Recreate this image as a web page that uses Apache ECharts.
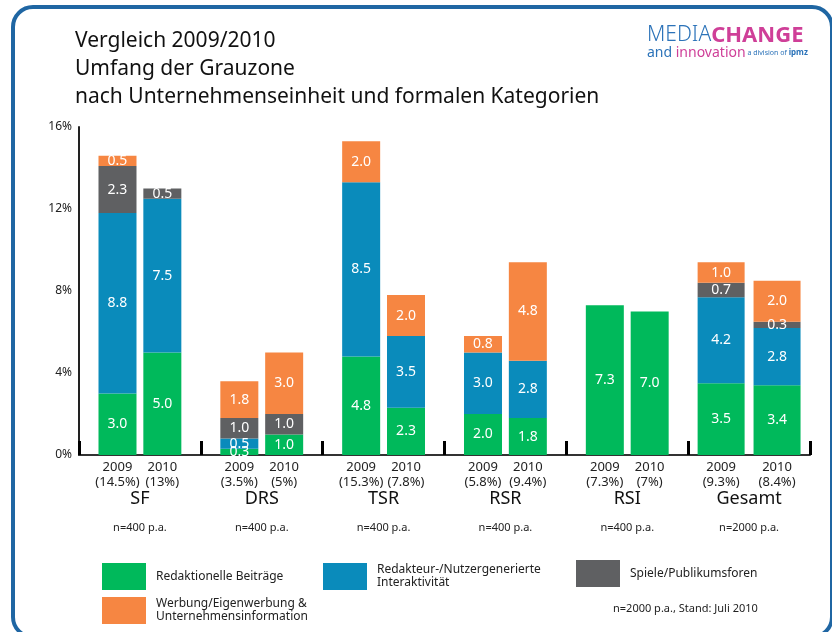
<!DOCTYPE html>
<html>
<head>
<meta charset="utf-8">
<script src="https://cdn.jsdelivr.net/npm/echarts@6/dist/echarts.min.js"></script>
<style>
  html, body { margin: 0; padding: 0; background: #fff; overflow: hidden; }
  #chart { position: absolute; left: 0; top: 0; width: 832px; height: 632px; }
  #frame { position: absolute; left: 11px; top: 5px; width: 823px; height: 634px; box-sizing: border-box;
           border: 4px solid #1f66a3; border-radius: 22px; pointer-events: none; z-index: 5; }
</style>
</head>
<body>
<div id="chart"></div>
<div id="frame"></div>
<script>
// ---- data ----
const categories = ['SF', 'DRS', 'TSR', 'RSR', 'RSI', 'Gesamt'];
const sampleLabels = ['n=400 p.a.', 'n=400 p.a.', 'n=400 p.a.', 'n=400 p.a.', 'n=400 p.a.', 'n=2000 p.a.'];
const years = ['2009', '2010'];
const totals2009 = ['(14.5%)', '(3.5%)', '(15.3%)', '(5.8%)', '(7.3%)', '(9.3%)'];
const totals2010 = ['(13%)', '(5%)', '(7.8%)', '(9.4%)', '(7%)', '(8.4%)'];
const seriesNames = ['Redaktionelle Beiträge', 'Redakteur-/Nutzergenerierte\nInteraktivität', 'Spiele/Publikumsforen', 'Werbung/Eigenwerbung &\nUnternehmensinformation'];
const redaktionell2009 = [3.0, 0.3, 4.8, 2.0, 7.3, 3.5];
const interaktiv2009   = [8.8, 0.5, 8.5, 3.0, null, 4.2];
const spiele2009       = [2.3, 1.0, null, null, null, 0.7];
const werbung2009      = [0.5, 1.8, 2.0, 0.8, null, 1.0];
const redaktionell2010 = [5.0, 1.0, 2.3, 1.8, 7.0, 3.4];
const interaktiv2010   = [7.5, null, 3.5, 2.8, null, 2.8];
const spiele2010       = [0.5, 1.0, null, null, null, 0.3];
const werbung2010      = [null, 3.0, 2.0, 4.8, null, 2.0];
const yMin = 0, yMax = 16, yStep = 4;

// ---- styles ----
const colors = ['#00b95b', '#0a8bbb', '#5f6062', '#f68642'];
const FONT = '"Noto Sans", "Open Sans", sans-serif';

const values = {
  '2009': [redaktionell2009, interaktiv2009, spiele2009, werbung2009],
  '2010': [redaktionell2010, interaktiv2010, spiele2010, werbung2010]
};
const totals = { '2009': totals2009, '2010': totals2010 };
const lastIdx = categories.length - 1;

function pick(arr, axis) {
  return arr.map((v, i) => {
    const inAxis = axis === 0 ? i !== lastIdx : i === lastIdx;
    return (inAxis && v !== null) ? v : '-';
  });
}

const series = [];
[0, 1].forEach(axis => {
  const bw = axis === 0 ? 38 : 47;
  const gap = axis === 0 ? '18%' : '19%';
  years.forEach(y => {
    const stack = 'ax' + axis + '-' + y;
    // year / total label under the bars (zero-height bar)
    series.push({
      type: 'bar', name: 'label' + y, xAxisIndex: axis, stack: stack,
      barWidth: bw, barGap: gap,
      data: pick(categories.map(() => 0), axis),
      itemStyle: { color: 'transparent' },
      label: {
        show: true, position: 'bottom', distance: 5,
        color: '#222', fontSize: 13, lineHeight: 15, fontFamily: FONT,
        formatter: p => y + '\n' + totals[y][p.dataIndex]
      },
      silent: true
    });
    values[y].forEach((arr, k) => {
      series.push({
        type: 'bar', name: seriesNames[k], xAxisIndex: axis, stack: stack,
        barWidth: bw, barGap: gap,
        data: pick(arr, axis),
        itemStyle: { color: colors[k] },
        label: {
          show: true, position: 'inside', color: '#fff', fontSize: 14, fontFamily: FONT,
          formatter: p => Number(p.value).toFixed(1)
        }
      });
    });
  });
});

function legendAt(name, left, top) {
  return {
    data: [name], left: left, top: top, orient: 'horizontal', padding: 0,
    itemWidth: 44, itemHeight: 27, selectedMode: false,
    icon: 'rect',
    textStyle: { color: '#222', fontSize: 12, lineHeight: 13, fontFamily: FONT, padding: [0, 0, 0, 5] }
  };
}

const option = {
  animation: false,
  backgroundColor: '#fff',
  title: [
    {
      left: 75, top: 27, padding: 0,
      text: 'Vergleich 2009/2010\nUmfang der Grauzone\nnach Unternehmenseinheit und formalen Kategorien',
      textStyle: { color: '#111', fontSize: 21, fontWeight: 'normal', lineHeight: 28, fontFamily: FONT }
    },
    {
      left: 647, top: 25, padding: 0,
      text: '{m|MEDIA}{c|CHANGE}\n{a|and }{i|innovation}{s| a division of }{p|ipmz}',
      textStyle: {
        fontWeight: 'normal',
        rich: {
          m: { fontSize: 21, fontWeight: 300, color: '#2c73b9', fontFamily: FONT, lineHeight: 21 },
          c: { fontSize: 22, fontWeight: 'bold', color: '#cf3f98', fontFamily: FONT, lineHeight: 21 },
          a: { fontSize: 14, fontWeight: 'normal', color: '#2c73b9', fontFamily: FONT, lineHeight: 14 },
          i: { fontSize: 14, fontWeight: 'normal', color: '#cf3f98', fontFamily: FONT, lineHeight: 14 },
          s: { fontSize: 7, fontWeight: 'normal', color: '#2c73b9', fontFamily: FONT, lineHeight: 14 },
          p: { fontSize: 8, fontWeight: 'bold', color: '#2c73b9', fontFamily: FONT, lineHeight: 14 }
        }
      }
    },
    {
      left: 613, top: 603, padding: 0,
      text: 'n=2000 p.a., Stand: Juli 2010',
      textStyle: { color: '#222', fontSize: 11, fontWeight: 'normal', fontFamily: FONT }
    }
  ],
  legend: [
    legendAt(seriesNames[0], 102, 563),
    legendAt(seriesNames[1], 323, 563),
    legendAt(seriesNames[2], 576, 560),
    legendAt(seriesNames[3], 102, 597)
  ],
  grid: { left: 79, right: 22, top: 127, bottom: 177, containLabel: false },
  xAxis: [
    {
      type: 'category', data: categories, boundaryGap: true,
      axisLine: { show: true, lineStyle: { color: '#333', width: 2 } },
      axisTick: { show: true, inside: true, length: 14, lineStyle: { color: '#000', width: 3 } },
      axisLabel: {
        margin: 33, interval: 0,
        formatter: (v, i) => '{g|' + v + '}\n{n|' + sampleLabels[i] + '}',
        rich: {
          g: { fontSize: 18, color: '#111', lineHeight: 22, fontFamily: FONT },
          n: { fontSize: 11, color: '#222', lineHeight: 36, fontFamily: FONT }
        }
      }
    },
    {
      type: 'category', data: categories, boundaryGap: true, position: 'bottom',
      axisLine: { show: false }, axisTick: { show: false }, axisLabel: { show: false }
    }
  ],
  yAxis: {
    type: 'value', min: yMin, max: yMax, interval: yStep,
    axisLine: { show: true, lineStyle: { color: '#222', width: 2 } },
    axisTick: { show: false },
    splitLine: { show: false },
    axisLabel: { formatter: '{value}%', color: '#222', fontSize: 12, margin: 7, fontFamily: FONT }
  },
  series: series
};

const chart = echarts.init(document.getElementById('chart'), null, { renderer: 'canvas' });
chart.setOption(option);
</script>
</body>
</html>
